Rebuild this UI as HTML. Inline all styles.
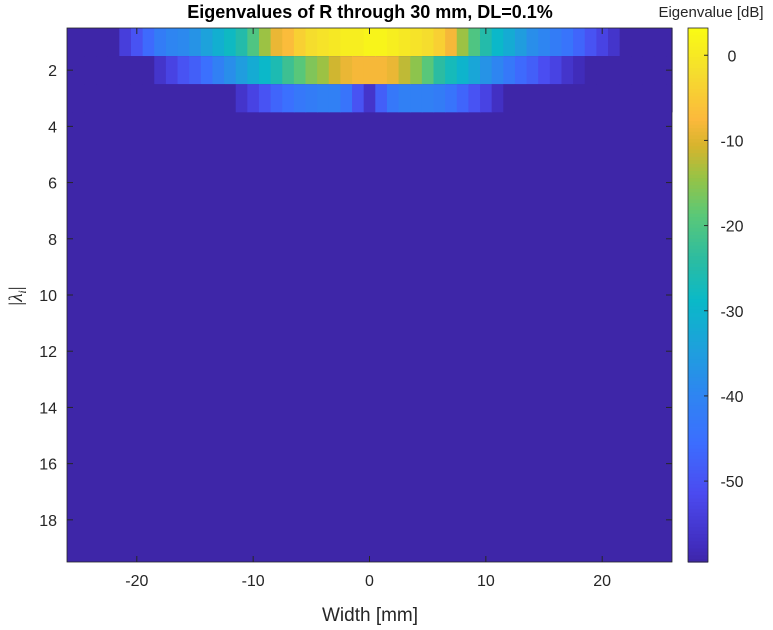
<!DOCTYPE html>
<html><head><meta charset="utf-8"><style>
body{margin:0;background:#fff;}
svg{display:block;font-family:"Liberation Sans",Arial,sans-serif;}
</style></head><body>
<svg id="chart" width="773" height="630" viewBox="0 0 773 630" xmlns="http://www.w3.org/2000/svg">
<text x="370" y="18" text-anchor="middle" font-size="18" font-weight="bold" fill="#000">Eigenvalues of R through 30 mm, DL=0.1%</text>
<text x="711" y="17" text-anchor="middle" font-size="15" fill="#262626">Eigenvalue [dB]</text>
<text x="370" y="621" text-anchor="middle" font-size="19" fill="#262626">Width [mm]</text>
<text transform="translate(22,296) rotate(-90)" text-anchor="middle" font-size="19" fill="#262626" font-family="Liberation Serif,serif">|<tspan font-style="italic">λ</tspan><tspan font-size="12" font-style="italic" dy="4">i</tspan><tspan dy="-4">|</tspan></text>
<g id="cells"></g>
<g id="cbar"></g>
<g id="axes"></g>
</svg>
<script>
const xCenters = [-26,-25,-24,-23,-22,-21,-20,-19,-18,-17,-16,-15,-14,-13,-12,-11,-10,-9,-8,-7,-6,-5,-4,-3,-2,-1,0,1,2,3,4,5,6,7,8,9,10,11,12,13,14,15,16,17,18,19,20,21,22,23,24,25,26];
const bgValue = -59.5;
const row1 = [-59.5,-59.5,-59.5,-59.5,-59.5,-54,-50,-46,-42,-40,-39,-37,-34,-31,-28,-25,-20,-14,-9,-7,-4,-2,-1,0,1,1,2,2,1,0,-1,-2,-4,-8,-14,-20,-25,-29,-32,-35,-38,-40,-42,-44,-47,-50,-53,-56,-59.5,-59.5,-59.5,-59.5,-59.5];
const row2 = [-59.5,-59.5,-59.5,-59.5,-59.5,-59.5,-59.5,-59.5,-56,-53,-50,-48,-45,-41,-38,-35,-32,-29,-26,-22,-19,-16,-14,-11,-9,-8,-8,-8,-9,-12,-15,-19,-24,-27,-30,-33,-37,-40,-43,-46,-48,-51,-53,-56,-58,-59.5,-59.5,-59.5,-59.5,-59.5,-59.5,-59.5,-59.5];
const row3 = [-59.5,-59.5,-59.5,-59.5,-59.5,-59.5,-59.5,-59.5,-59.5,-59.5,-59.5,-59.5,-59.5,-59.5,-59.5,-56,-53,-50,-47,-45,-43,-42,-41,-41,-44,-50,-56,-48,-43,-41,-41,-41,-42,-44,-47,-50,-53,-57,-59.5,-59.5,-59.5,-59.5,-59.5,-59.5,-59.5,-59.5,-59.5,-59.5,-59.5,-59.5,-59.5,-59.5,-59.5];
const nRows = 19;
const xTicks = [-20,-10,0,10,20];
const yTicks = [2,4,6,8,10,12,14,16,18];
const cTicks = [0,-10,-20,-30,-40,-50];
const cMin = -59.5, cMax = 3.2;

const PL=67, PR=672, PT=28, PB=562;
const X0=-26, X1=26;
const sx = v => PL + (v - X0) / (X1 - X0) * (PR - PL);
const sy = r => PT + (r - 0.5) / nRows * (PB - PT);
const CB_L=688, CB_R=708;
const sc = v => PB - (v - cMin) / (cMax - cMin) * (PB - PT);

const stops=[[0,62,38,168],[0.03,65,45,190],[0.13,75,75,240],[0.225,60,110,255],[0.32,45,135,240],[0.40,30,160,220],[0.49,10,185,200],[0.57,45,188,160],[0.65,90,200,120],[0.72,150,195,70],[0.78,215,180,45],[0.83,252,185,60],[0.92,245,222,45],[1,249,251,20]];
function parula(t){t=Math.max(0,Math.min(1,t));let i=0;while(i<stops.length-2&&t>stops[i+1][0])i++;
const a=stops[i],b=stops[i+1],f=(t-a[0])/(b[0]-a[0]);
const c=[1,2,3].map(k=>Math.round(a[k]+(b[k]-a[k])*f));return `rgb(${c[0]},${c[1]},${c[2]})`;}
const col = v => parula((v - cMin)/(cMax - cMin));
const NS="http://www.w3.org/2000/svg";
function mk(tag,attrs,parent){const e=document.createElementNS(NS,tag);for(const k in attrs)e.setAttribute(k,attrs[k]);parent.appendChild(e);return e;}

const cells=document.getElementById('cells');
const bg=mk('rect',{x:PL,y:PT,width:PR-PL,height:PB-PT,fill:col(bgValue)},cells);


const rows=[row1,row2,row3];
rows.forEach((row,ri)=>{
  row.forEach((v,ci)=>{
    const xc=xCenters[ci];
    const a=Math.max(sx(xc-0.5),PL), b=Math.min(sx(xc+0.5),PR);
    const r=mk('rect',{x:a,y:sy(ri+0.5),width:b-a+0.6,height:sy(ri+1.5)-sy(ri+0.5),fill:col(v)},cells);
    
    
  });
});

const cb=document.getElementById('cbar');
const N=150;
for(let i=0;i<N;i++){
  const v0=cMin+(cMax-cMin)*i/N, v1=cMin+(cMax-cMin)*(i+1)/N;
  const r=mk('rect',{x:CB_L,y:sc(v1),width:CB_R-CB_L,height:sc(v0)-sc(v1)+0.6,fill:col((v0+v1)/2)},cb);
  
  
}
mk('rect',{x:CB_L,y:PT,width:CB_R-CB_L,height:PB-PT,fill:'none',stroke:'#262626','stroke-width':0.8},cb);
cTicks.forEach(t=>{
  const y=sc(t);
  mk('line',{x1:CB_R-4,x2:CB_R,y1:y,y2:y,stroke:'#262626'},cb);
  const tx=mk('text',{x:CB_R+24,y:y+6,'font-size':16,fill:'#262626','text-anchor':'middle'},cb);
  tx.textContent=t;
  
  
});

const ax=document.getElementById('axes');
mk('rect',{x:PL,y:PT,width:PR-PL,height:PB-PT,fill:'none',stroke:'#262626','stroke-width':0.8},ax);
xTicks.forEach(t=>{
  const x=sx(t);
  mk('line',{x1:x,x2:x,y1:PB,y2:PB-6,stroke:'#262626'},ax);
  mk('line',{x1:x,x2:x,y1:PT,y2:PT+6,stroke:'#262626'},ax);
  const tx=mk('text',{x:x,y:PB+24,'font-size':16,fill:'#262626','text-anchor':'middle'},ax);
  tx.textContent=t;
  
  
});
yTicks.forEach(t=>{
  const y=sy(t);
  mk('line',{x1:PL,x2:PL+6,y1:y,y2:y,stroke:'#262626'},ax);
  mk('line',{x1:PR,x2:PR-6,y1:y,y2:y,stroke:'#262626'},ax);
  const tx=mk('text',{x:PL-10,y:y+6,'font-size':16,fill:'#262626','text-anchor':'end'},ax);
  tx.textContent=t;
  
  
});
</script>
</body></html>
